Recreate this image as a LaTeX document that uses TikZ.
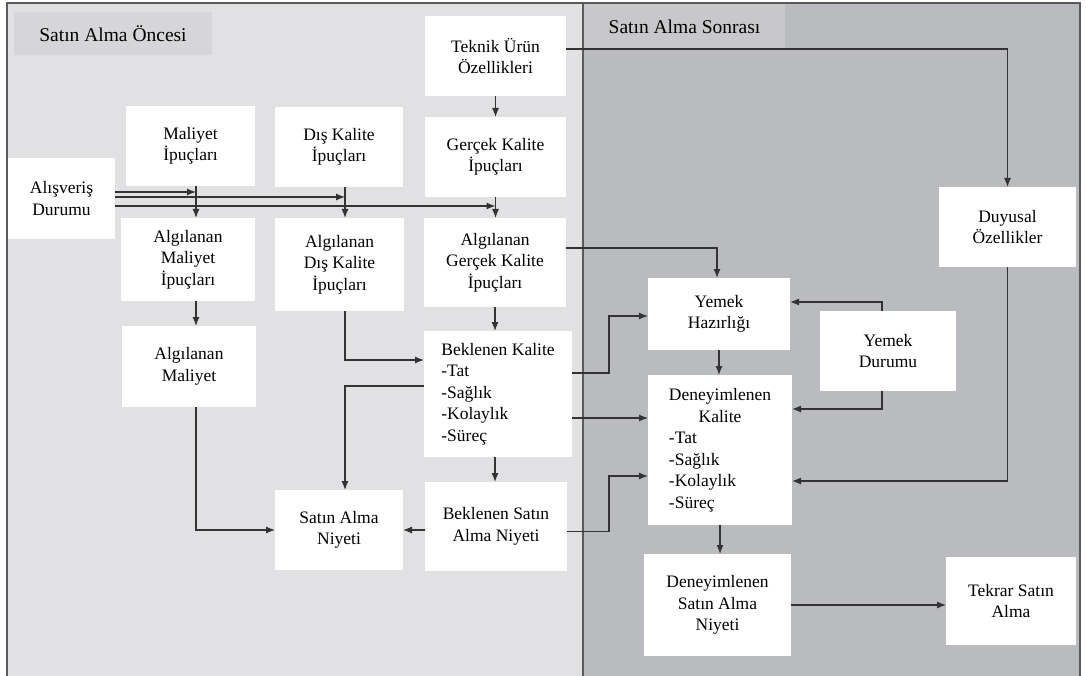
\documentclass[tikz,border=0pt]{standalone}
\usepackage{fontspec}
\setmainfont{Liberation Serif}
\usetikzlibrary{arrows.meta}

\definecolor{oncebg}{HTML}{E1E1E3}
\definecolor{sonrabg}{HTML}{BABBBF}
\definecolor{oncetag}{HTML}{D6D6D8}
\definecolor{sonratag}{HTML}{C8C8CA}
\definecolor{wirec}{HTML}{333333}
\definecolor{rim}{HTML}{5A5A5A}

\begin{document}
\begin{tikzpicture}[
    x = 1pt, y = -1pt, % pixel grid, y runs down
    > = {Latex[length=9pt,width=7pt]}, % arrow head style
    font = \fontsize{17.5}{21.5}\selectfont
    ]

    \tikzset{box/.style 2 args={
    fill = white,
    align = center,
    inner sep = 2pt,
    outer sep = 0pt,
    minimum width = #1pt,
    minimum height = #2pt
    },
    tag/.style={
    font = \fontsize{19.5}{23}\selectfont,
    outer sep = 0pt
    },
    wire/.style={->, draw = wirec, line width = 1.2pt}
    }

    \useasboundingbox (0,0) rectangle (1086,676);
    % the two phases
    \fill[oncebg] (7,3) rectangle (583,676);
    \fill[sonrabg] (583,3) rectangle (1080,676);
    \draw[rim, line width = 1.4pt] (7,676) -- (7,3) -- (1080,3) -- (1080,676);
    \draw[rim, line width = 1.4pt] (583,3) -- (583,676);
    \node[tag, fill = oncetag, minimum width = 198pt, minimum height = 43pt] (once) at (113,33.5) {Satın Alma Öncesi};
    \node[tag, fill = sonratag, minimum width = 201pt, minimum height = 45pt] (sonra) at (684.5,26.5) {Satın Alma Sonrası};

    \node[box={107}{81}] (alis) at (61.5,198.5) {Alışveriş\\Durumu};
    \node[box={129}{80}] (mal) at (190.5,146) {Maliyet\\İpuçları};
    \node[box={128}{80}] (dis) at (339,147) {Dış Kalite\\İpuçları};
    \node[box={141}{80}] (tek) at (495.5,56) {Teknik Ürün\\Özellikleri};
    \node[box={141}{80}] (ger) at (495.5,157) {Gerçek Kalite\\İpuçları};
    \node[box={134}{83}] (amal) at (188,259.5) {Algılanan\\Maliyet\\İpuçları};
    \node[box={129}{93}] (adis) at (339.5,264.5) {Algılanan\\Dış Kalite\\İpuçları};
    \node[box={142}{89}] (ager) at (495,262.5) {Algılanan\\Gerçek Kalite\\İpuçları};
    \node[box={134}{81}] (amlyt) at (189,366.5) {Algılanan\\Maliyet};
    \node[box={148}{126}, align = left] (bek) at (498,394) {Beklenen Kalite\\-Tat\\-Sağlık\\-Kolaylık\\-Süreç};
    \node[box={128}{80}] (san) at (339,530) {Satın Alma\\Niyeti};
    \node[box={142}{89}] (bsan) at (496,526.5) {Beklenen Satın\\Alma Niyeti};
    \node[box={137}{80}] (duy) at (1007.5,227) {Duyusal\\Özellikler};
    \node[box={142}{72}] (yh) at (719,314) {Yemek\\Hazırlığı};
    \node[box={136}{80}] (yd) at (888,351) {Yemek\\Durumu};
    \node[box={144}{150}] (dk) at (720,450) {\begin{tabular}{@{}l@{}}
    \multicolumn{1}{@{}c@{}}{Deneyimlenen}\\
    \multicolumn{1}{@{}c@{}}{Kalite}\\
    -Tat\\-Sağlık\\-Kolaylık\\-Süreç
    \end{tabular}};
    \node[box={147}{102}] (dsan) at (717.5,605) {Deneyimlenen\\Satın Alma\\Niyeti};
    \node[box={130}{88}] (tkr) at (1011,601) {Tekrar Satın\\Alma};

    % drop lines and rows
    \coordinate (mx) at ([xshift=5.5pt]mal.south);
    \coordinate (dx) at ([xshift=6pt]dis.south);
    \coordinate (jx) at ([xshift=37pt]bek.east);
    \coordinate (r1) at ([yshift=6.5pt]alis.east);
    \coordinate (r2) at ([yshift=1.5pt]alis.east);
    \coordinate (r3) at ([yshift=-7.5pt]alis.east);
    \coordinate (b1) at ([yshift=34pt]bek.west);
    \coordinate (b2) at ([yshift=8pt]bek.west);
    \coordinate (b3) at ([yshift=21pt]bek.east);
    \coordinate (b4) at ([yshift=-24pt]bek.east);
    \coordinate (b5) at ([yshift=-5pt]bsan.east);

    \draw[wire] (r1) -- (r1 -| mx);
    \draw[wire] (r2) -- (r2 -| dx);
    \draw[wire] (r3) -- (r3 -| ger.south);
    \draw[wire] (mx) -- (mx |- amal.north);
    \draw[wire] (dx) -- (dx |- adis.north);
    \draw[wire] (ger.south) -- (ger.south |- ager.north);
    \draw[wire] (tek) -- (ger);
    \draw[wire] ([yshift=7pt]tek.east) -| (duy.north);
    \draw[wire] (amal.south -| mx) -- (mx |- amlyt.north);
    \draw[wire] (adis.south -| dx) |- (b1);
    \draw[wire] (ager.south) -- (ager.south |- bek.north);
    \draw[wire] ([yshift=14.5pt]ager.east) -| ([xshift=-2pt]yh.north);
    \draw[wire] (b2) -| (dx |- san.north);
    \draw[wire] (amlyt.south -| mx) |- (san.west);
    \draw[wire] (bek.south -| ager.south) -- (ager.south |- bsan.north);
    \draw[wire] (bsan.west |- san.east) -- (san.east);
    \draw[wire] (b3) -- (b3 -| jx) |- ([yshift=-2pt]yh.west);
    \draw[wire] (b4) -- (b4 -| dk.west);
    \draw[wire] (b5) -- (b5 -| jx) |- ([yshift=-26pt]dk.west);
    \draw[wire] (yh.south) -- (yh.south |- dk.north);
    \draw[wire] ([xshift=-6pt]yd.north) |- ([yshift=12pt]yh.east);
    \draw[wire] ([xshift=-6pt]yd.south) |- ([yshift=41pt]dk.east);
    \draw[wire] (duy.south) |- ([yshift=-31pt]dk.east);
    \draw[wire] (dk.south) -- (dk.south |- dsan.north);
    \draw[wire] (dsan.east) -- (dsan.east -| tkr.west);
\end{tikzpicture}
\end{document}
